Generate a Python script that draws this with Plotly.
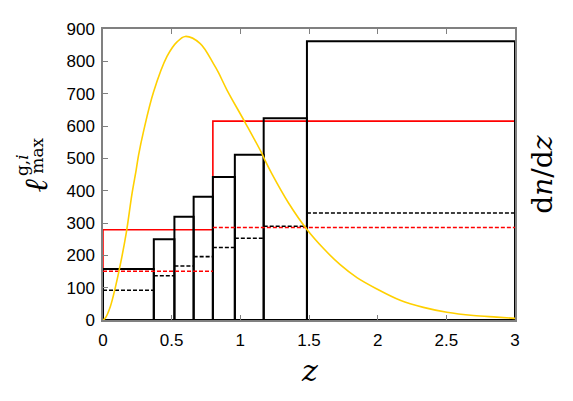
import plotly.graph_objects as go

# ------------------------------------------------------------
# DATA
# ------------------------------------------------------------

# black bins: outline = solid, dashed = second quantity
bin_edges = [0.0, 0.37, 0.52, 0.66, 0.80, 0.96, 1.17, 1.485, 3.0]
bin_solid = [158, 250, 319, 381, 442, 511, 624, 862]
bin_dashed = [92, 137, 167, 196, 224, 253, 290, 331]

# red bins
red_edges = [0.0, 0.8, 3.0]
red_solid = [279, 615]
red_dashed = [151, 286]

# dn/dz curve (right axis, same scale as left)
z_curve = [0.0, 0.017, 0.053, 0.09, 0.126, 0.17, 0.211, 0.242, 0.259, 0.296,
           0.368, 0.466, 0.539, 0.599, 0.708, 0.805, 0.841, 0.902, 1.036,
           1.157, 1.181, 1.23, 1.351, 1.485, 1.606, 1.727, 1.849, 1.994,
           2.164, 2.333, 2.504, 2.697, 2.868, 3.0]
dndz = [0, 6, 41, 101, 171, 271, 390, 465, 510, 585,
        705, 815, 860, 877, 855, 792, 765, 712, 610,
        515, 493, 452, 362, 280, 221, 171, 131, 96,
        61, 39, 24, 14, 9, 5]

x_ticks = [0, 0.5, 1, 1.5, 2, 2.5, 3]
x_ticklabels = ["0", "0.5", "1", "1.5", "2", "2.5", "3"]
y_ticks = [0, 100, 200, 300, 400, 500, 600, 700, 800, 900]

# ------------------------------------------------------------
# helpers
# ------------------------------------------------------------

def boxes(edges, vals):
    xs, ys = [], []
    for i, v in enumerate(vals):
        a, b = edges[i], edges[i + 1]
        xs += [a, a, b, b, a, None]
        ys += [0, v, v, 0, 0, None]
    return xs, ys

def outline(edges, vals):
    xs, ys = [edges[0]], [0]
    for i, v in enumerate(vals):
        xs += [edges[i], edges[i + 1]]
        ys += [v, v]
    xs += [edges[-1], edges[0]]
    ys += [0, 0]
    return xs, ys

def segments(edges, vals):
    xs, ys = [], []
    for i, v in enumerate(vals):
        xs += [edges[i], edges[i + 1], None]
        ys += [v, v, None]
    return xs, ys

# ------------------------------------------------------------
# FIGURE
# ------------------------------------------------------------

fig = go.Figure()

rx, ry = outline(red_edges, red_solid)
fig.add_trace(go.Scatter(x=rx, y=ry, mode="lines",
                         line=dict(color="#ff0000", width=1.6),
                         showlegend=False, hoverinfo="skip"))

fig.add_trace(go.Scatter(x=z_curve, y=dndz, mode="lines", yaxis="y2",
                         line=dict(color="#ffd000", width=1.6, shape="spline"),
                         showlegend=False, hoverinfo="skip"))

bx, by = boxes(bin_edges, bin_solid)
fig.add_trace(go.Scatter(x=bx, y=by, mode="lines",
                         line=dict(color="black", width=2),
                         showlegend=False, hoverinfo="skip"))

dx, dy = segments(red_edges, red_dashed)
fig.add_trace(go.Scatter(x=dx, y=dy, mode="lines",
                         line=dict(color="#ff0000", width=1.6, dash="4px,2px"),
                         showlegend=False, hoverinfo="skip"))

kx, ky = segments(bin_edges, bin_dashed)
fig.add_trace(go.Scatter(x=kx, y=ky, mode="lines",
                         line=dict(color="black", width=1.6, dash="4px,2px"),
                         showlegend=False, hoverinfo="skip"))

axis_common = dict(showgrid=False, zeroline=False, showline=True,
                   linecolor="#808080", linewidth=1.5,
                   ticks="inside", ticklen=5, tickcolor="#808080",
                   tickfont=dict(family="Liberation Sans, Arial", size=17,
                                 color="black"))

# page body has an 8px default margin -> figure is 8px smaller
fig.update_layout(
    width=565, height=393,
    paper_bgcolor="white", plot_bgcolor="white",
    margin=dict(l=95, r=58, t=12, b=81),
    xaxis=dict(range=[0, 3], tickvals=x_ticks, ticktext=x_ticklabels,
               mirror="ticks", ticklabelstandoff=4, **axis_common),
    yaxis=dict(range=[0, 900], tickvals=y_ticks, mirror=True,
               ticklabelstandoff=3, **axis_common),
    yaxis2=dict(range=[0, 900], overlaying="y", side="right",
                showticklabels=False, showgrid=False, zeroline=False,
                ticks=""),
)

serif = "DejaVu Serif, Liberation Serif, serif"

# x label
fig.add_annotation(text="<i>z</i>", xref="paper", yref="paper",
                   x=0.5, y=-0.175, yanchor="middle", showarrow=False,
                   font=dict(family=serif, size=30, color="black"))

# y label  l^{g,i}_max  (stacked by hand)
fig.add_annotation(text="<i>ℓ</i>", xref="paper", yref="paper",
                   xanchor="center", yanchor="middle",
                   x=-0.163, y=0.462, textangle=-90, showarrow=False,
                   font=dict(family=serif, size=32, color="black"))
fig.add_annotation(text="g,<i>i</i>", xref="paper", yref="paper",
                   xanchor="center", yanchor="middle",
                   x=-0.197, y=0.532, textangle=-90, showarrow=False,
                   font=dict(family=serif, size=17, color="black"))
fig.add_annotation(text="max", xref="paper", yref="paper",
                   xanchor="center", yanchor="middle",
                   x=-0.16, y=0.565, textangle=-90, showarrow=False,
                   font=dict(family=serif, size=17, color="black"))

# right label
fig.add_annotation(text="d<i>n</i>/d<i>z</i>", xref="paper", yref="paper",
                   xanchor="center", yanchor="middle",
                   x=1.066, y=0.5, textangle=-90, showarrow=False,
                   font=dict(family=serif, size=28, color="black"))

fig.write_html("out.html")
